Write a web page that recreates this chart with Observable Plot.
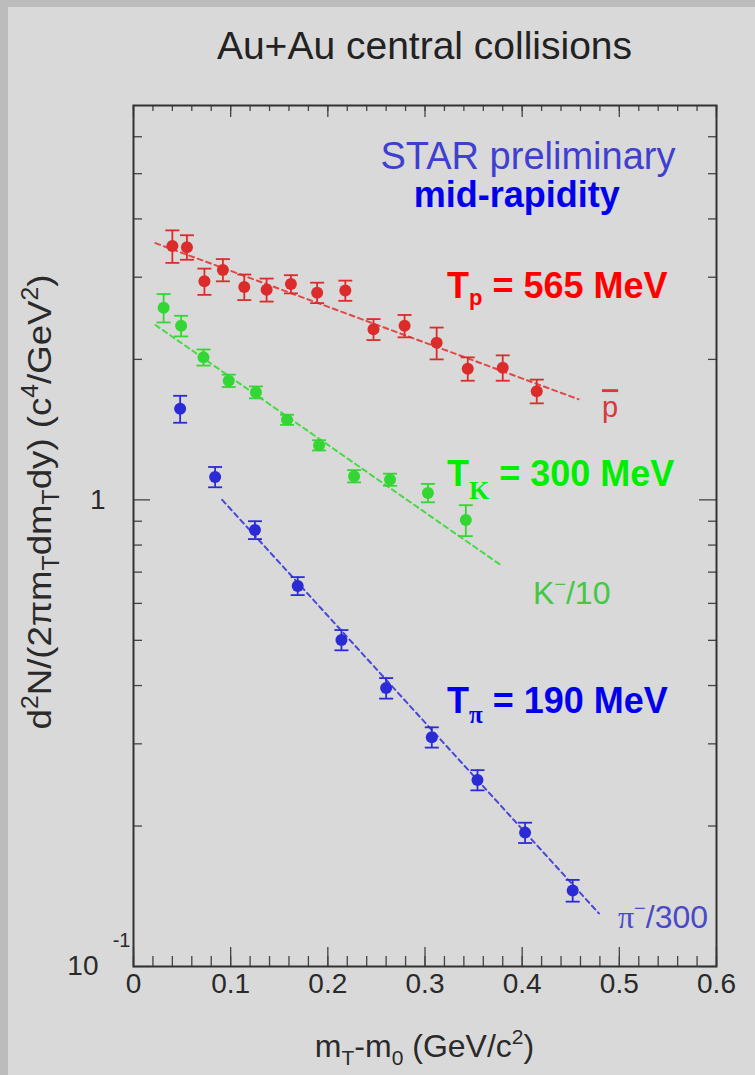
<!DOCTYPE html>
<html>
<head>
<meta charset="utf-8">
<script src="https://cdn.jsdelivr.net/npm/d3@7"></script>
<script src="https://cdn.jsdelivr.net/npm/@observablehq/plot@0.6"></script>
<style>
  html, body { margin: 0; padding: 0; background: #bcbcbc; }
  #page { position: relative; width: 755px; height: 1075px; overflow: hidden; }
  #panel { position: absolute; left: 8px; top: 7px; right: 0; bottom: 0; background: #d9d9d9; }
  #title {
    position: absolute; left: 133px; top: 26px; width: 583px; text-align: center;
    font: 39px/39px "Liberation Sans", Arial, sans-serif; color: #222;
  }
  #chart { position: absolute; left: 0; top: 80px; }
</style>
</head>
<body>
<div id="page">
  <div id="panel"></div>
  <div id="title">Au+Au central collisions</div>
  <div id="chart"></div>
</div>
<script>
// Spectra at mid-rapidity: x = mT - m0 (GeV/c^2), y = d2N/(2π mT dmT dy), with errors
const pbarX   = [0.040, 0.055, 0.073, 0.092, 0.114, 0.137, 0.162, 0.189, 0.218, 0.247, 0.279, 0.312, 0.344, 0.380, 0.415];
const pbarY   = [3.50, 3.48, 2.94, 3.11, 2.86, 2.82, 2.90, 2.78, 2.81, 2.32, 2.36, 2.17, 1.91, 1.92, 1.71];
const pbarErr = [0.28, 0.21, 0.19, 0.17, 0.18, 0.16, 0.13, 0.14, 0.14, 0.12, 0.13, 0.17, 0.11, 0.12, 0.10];

// K- scaled by 1/10
const kaonX   = [0.031, 0.049, 0.072, 0.098, 0.126, 0.158, 0.191, 0.227, 0.264, 0.303, 0.342];
const kaonY   = [2.58, 2.36, 2.02, 1.80, 1.70, 1.485, 1.309, 1.124, 1.105, 1.035, 0.905];
const kaonErr = [0.18, 0.12, 0.08, 0.055, 0.05, 0.037, 0.033, 0.034, 0.033, 0.047, 0.069];

// pi- scaled by 1/300
const pionX   = [0.048, 0.084, 0.125, 0.169, 0.214, 0.260, 0.307, 0.354, 0.403, 0.452];
const pionY   = [1.567, 1.120, 0.862, 0.654, 0.501, 0.395, 0.310, 0.251, 0.1936, 0.1455];
const pionErr = [0.104, 0.056, 0.038, 0.029, 0.025, 0.020, 0.0155, 0.0125, 0.0097, 0.0078];

// Exponential fits: inverse slope T (GeV), normalisation at the start of the fit range
const temperatures = [0.565, 0.300, 0.190];
const fitFrom = [0.0226, 0.0226, 0.0913];
const fitTo   = [0.458, 0.378, 0.479];
const fitNorm = [3.55, 2.37, 1.0];

const seriesColors = ["#dc2b2b", "#33d633", "#2b2bd6"];
const fitColors    = ["#e04848", "#48d848", "#4848d8"];

// Axis ticks
const xTickValues = [0, 0.1, 0.2, 0.3, 0.4, 0.5, 0.6];
const xTickLabels = ["0", "0.1", "0.2", "0.3", "0.4", "0.5", "0.6"];
const xMinorValues = d3.range(0, 31).map(i => i * 0.02);
const yMajorValues = [0.1, 1];
const yMinorValues = [0.2, 0.3, 0.4, 0.5, 0.6, 0.7, 0.8, 0.9, 2, 3, 4, 5, 6];

const seriesData = [
  {x: pbarX, y: pbarY, e: pbarErr},
  {x: kaonX, y: kaonY, e: kaonErr},
  {x: pionX, y: pionY, e: pionErr}
];

const points = seriesData.flatMap((s, k) =>
  s.x.map((x, i) => ({series: k, x, y: s.y[i], e: s.e[i], color: seriesColors[k]})));

const fitLines = temperatures.flatMap((T, k) => [
  {series: k, x: fitFrom[k], y: fitNorm[k], color: fitColors[k]},
  {series: k, x: fitTo[k], y: fitNorm[k] * Math.exp(-(fitTo[k] - fitFrom[k]) / T), color: fitColors[k]}
]);

// Horizontal bar symbol for the error-bar caps
const capSymbol = {
  draw(context, size) {
    const r = Math.sqrt(size / Math.PI);
    context.moveTo(-r, 0);
    context.lineTo(r, 0);
  }
};

const W = 755, H = 995, mL = 133, mR = 39, mT = 25, mB = 109;
const frameW = W - mL - mR, frameH = H - mT - mB;
const axisGray = "#444";
const font = "'Liberation Sans', Arial, sans-serif";

const plot = Plot.plot({
  width: W, height: H,
  marginLeft: mL, marginRight: mR, marginTop: mT, marginBottom: mB,
  x: {domain: [0, 0.6], axis: null},
  y: {type: "log", domain: [0.1, 7], axis: null},
  style: {background: "transparent", fontFamily: font, overflow: "visible"},
  marks: [
    // fits
    Plot.line(fitLines, {x: "x", y: "y", z: "series", stroke: "color", strokeWidth: 2, strokeDasharray: "5,4"}),
    // error bars
    Plot.ruleX(points, {x: "x", y1: d => d.y - d.e, y2: d => d.y + d.e, stroke: "color", strokeWidth: 1.8}),
    Plot.dot(points, {x: "x", y: d => d.y + d.e, symbol: capSymbol, r: 7, stroke: "color", strokeWidth: 1.8}),
    Plot.dot(points, {x: "x", y: d => d.y - d.e, symbol: capSymbol, r: 7, stroke: "color", strokeWidth: 1.8}),
    // markers
    Plot.dot(points, {x: "x", y: "y", r: 6, fill: "color"}),
    // inward ticks: bottom, top, left, right
    Plot.ruleX(xTickValues, {x: d => d, insetTop: frameH - 19, stroke: axisGray, strokeWidth: 1.3}),
    Plot.ruleX(xMinorValues, {x: d => d, insetTop: frameH - 10, stroke: axisGray, strokeWidth: 1.3}),
    Plot.ruleX(xTickValues, {x: d => d, insetBottom: frameH - 12, stroke: axisGray, strokeWidth: 1.3}),
    Plot.ruleX(xMinorValues, {x: d => d, insetBottom: frameH - 6, stroke: axisGray, strokeWidth: 1.3}),
    Plot.ruleY(yMajorValues, {y: d => d, insetRight: frameW - 17, stroke: axisGray, strokeWidth: 1.3}),
    Plot.ruleY(yMinorValues, {y: d => d, insetRight: frameW - 9, stroke: axisGray, strokeWidth: 1.3}),
    Plot.ruleY(yMajorValues, {y: d => d, insetLeft: frameW - 17, stroke: axisGray, strokeWidth: 1.3}),
    Plot.ruleY(yMinorValues, {y: d => d, insetLeft: frameW - 8, stroke: axisGray, strokeWidth: 1.3}),
    Plot.frame({stroke: "#333", strokeWidth: 2}),
    // tick labels
    Plot.text(xTickValues, {x: d => d, frameAnchor: "bottom", dy: 26, text: (d, i) => xTickLabels[i],
      fontSize: 28, fill: "#2a2a2a"}),
    Plot.text([1], {y: d => d, frameAnchor: "left", dx: -28, textAnchor: "end", text: () => "1",
      fontSize: 28, fill: "#2a2a2a"}),
    Plot.text([0.1], {y: d => d, frameAnchor: "left", dx: -35, textAnchor: "end", text: () => "10",
      fontSize: 28, fill: "#2a2a2a"}),
    Plot.text([0.1], {y: d => d, frameAnchor: "left", dx: -3, dy: -26, textAnchor: "end", text: () => "-1",
      fontSize: 20, fill: "#2a2a2a"})
  ]
});

document.getElementById("chart").appendChild(plot);

// Rich-text annotations (sub/superscripts) placed through the plot's scales
const xs = plot.scale("x"), ys = plot.scale("y");
const svg = d3.select(plot);
const g = svg.append("g").attr("font-family", font).attr("text-anchor", "start");

function richText(parent, parts, attrs) {
  const t = parent.append("text").attr("text-anchor", "start");
  for (const [k, v] of Object.entries(attrs)) t.attr(k, v);
  let shift = 0;
  for (const p of parts) {
    const target = p.shift || 0;
    const ts = t.append("tspan").text(p.t);
    if (target !== shift) ts.attr("dy", target - shift);
    shift = target;
    if (p.size) ts.attr("font-size", p.size);
    if (p.family) ts.attr("font-family", p.family);
    if (p.weight) ts.attr("font-weight", p.weight);
    if (p.deco) ts.style("text-decoration", p.deco);
  }
  return t;
}

const serif = "'Liberation Serif', 'Times New Roman', serif";

// "STAR preliminary" / "mid-rapidity"
richText(g, [{t: "STAR preliminary"}], {
  x: xs.apply(0.4065), y: ys.apply(5.10), "text-anchor": "middle", "font-size": 38, fill: "#3f3fd2"});
richText(g, [{t: "mid-rapidity"}], {
  x: xs.apply(0.395), y: ys.apply(4.23), "text-anchor": "middle", "font-size": 36, "font-weight": "bold", fill: "#0000ee"});

// Inverse-slope labels
const tempLabels = [
  {sub: "p", subFamily: font, subSize: 22, subShift: 7, y: 2.70, fill: "#ff0000"},
  {sub: "K", subFamily: serif, subSize: 26, subShift: 13, y: 1.066, fill: "#00ee00"},
  {sub: "π", subFamily: serif, subSize: 25, subShift: 10, y: 0.349, fill: "#0000ee"}
];
tempLabels.forEach((L, k) => {
  richText(g, [
    {t: "T"},
    {t: L.sub, size: L.subSize, family: L.subFamily, shift: L.subShift},
    {t: ` = ${Math.round(temperatures[k] * 1000)} MeV`, shift: 0}
  ], {x: xs.apply(0.3231), y: ys.apply(L.y), "font-size": 36, "font-weight": "bold", fill: L.fill});
});

// Species labels
richText(g, [{t: "p", deco: "overline"}], {
  x: xs.apply(0.4827), y: ys.apply(1.50), "font-size": 29, fill: "#d63a3a"});
richText(g, [{t: "K"}, {t: "−", size: 20, shift: -13}, {t: "/10", shift: 0}], {
  x: xs.apply(0.4116), y: ys.apply(0.5975), "font-size": 32, fill: "#44c844"});
richText(g, [{t: "π", family: serif}, {t: "−", size: 20, shift: -13}, {t: "/300", shift: 0}], {
  x: xs.apply(0.4991), y: ys.apply(0.1208), "font-size": 32, fill: "#4a4ac8"});

// Axis titles
const yTitle = richText(g, [
  {t: "d"}, {t: "2", size: 23, shift: -13}, {t: "N/(2πm", shift: 0},
  {t: "T", size: 23, shift: 8}, {t: "dm", shift: 0}, {t: "T", size: 23, shift: 8},
  {t: "dy) (c", shift: 0}, {t: "4", size: 23, shift: -13}, {t: "/GeV", shift: 0},
  {t: "2", size: 23, shift: -13}, {t: ")", shift: 0}
], {"text-anchor": "middle", "font-size": 34, fill: "#2a2a2a"});
const yLen = yTitle.node().getComputedTextLength();
yTitle.attr("transform", `translate(51,${502 - 80}) rotate(-90) scale(${455 / yLen},1)`);

richText(g, [
  {t: "m"}, {t: "T", size: 21, shift: 8}, {t: "-m", shift: 0}, {t: "0", size: 21, shift: 8},
  {t: " (GeV/c", shift: 0}, {t: "2", size: 21, shift: -13}, {t: ")", shift: 0}
], {x: xs.apply(0.3), y: 1057 - 80, "text-anchor": "middle", "font-size": 32, fill: "#2a2a2a"});
</script>
</body>
</html>
